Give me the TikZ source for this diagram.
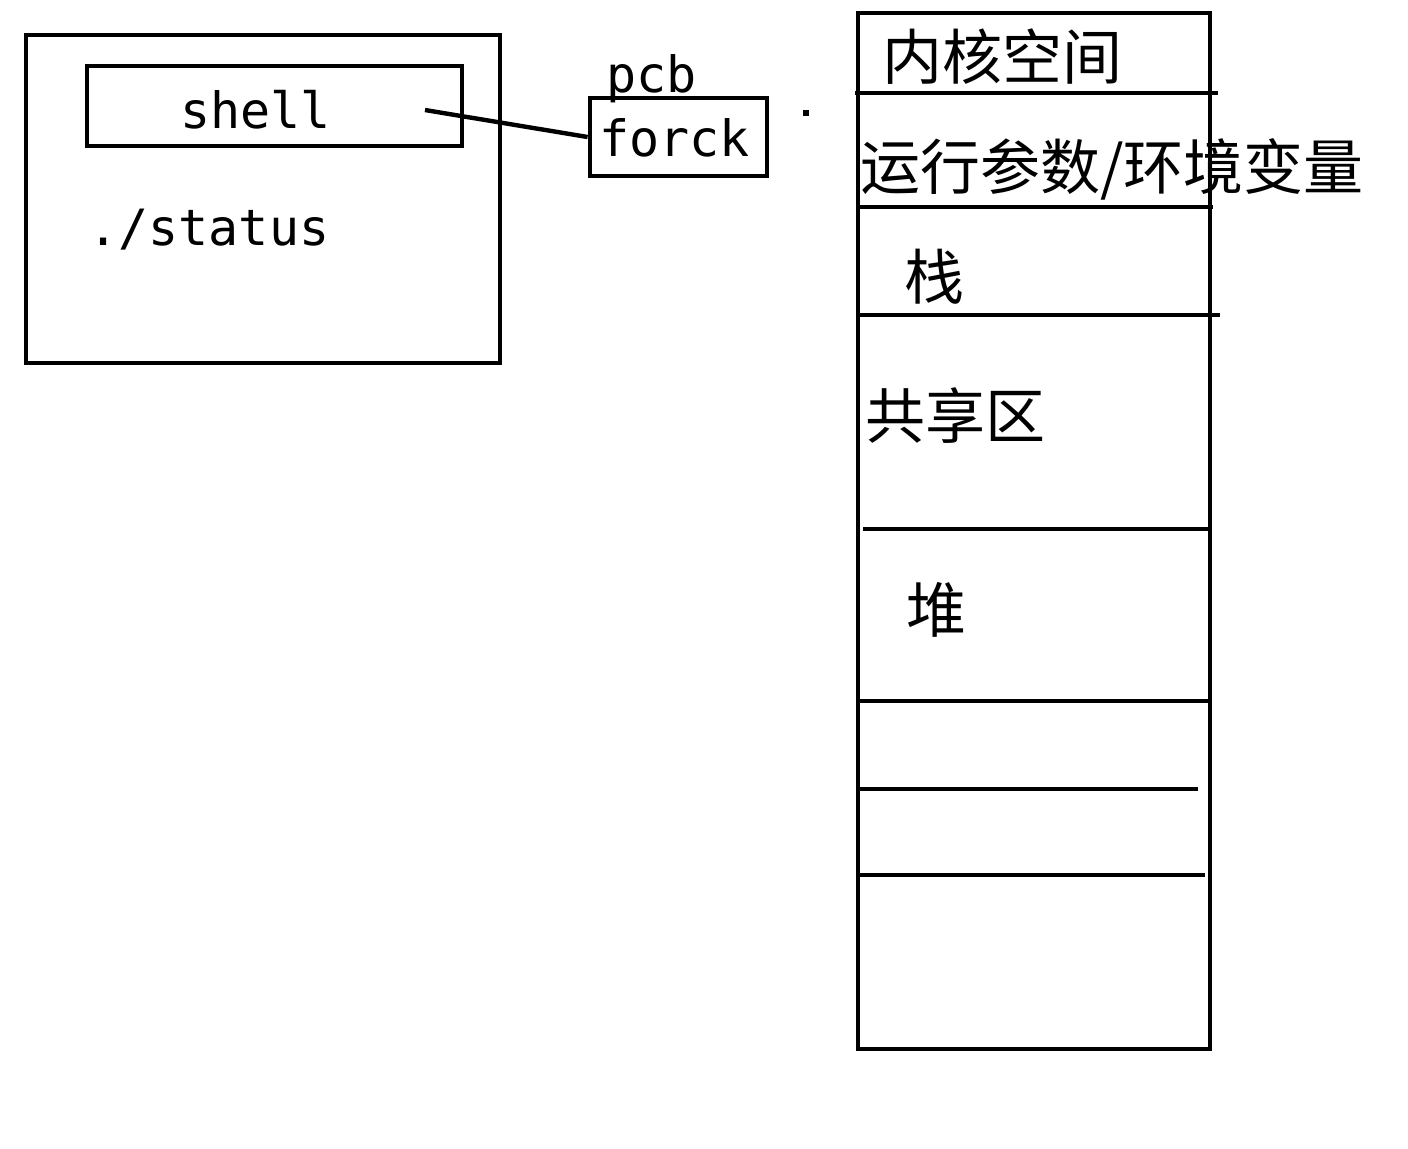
\documentclass[tikz,border=0pt]{standalone}
\usepackage{fontspec}
\newfontfamily\cjkfont{Noto Sans CJK SC}
\newfontfamily\latinmono{DejaVu Sans Mono}
\usetikzlibrary{positioning, calc}

\begin{document}
\begin{tikzpicture}[x=0.5pt, y=-0.5pt,
  box/.style={draw, line width=2.4pt, inner sep=0pt},
  latin/.style={inner sep=0pt, anchor=base west, font=\latinmono\fontsize{25}{25}\selectfont},
  hanzi/.style={inner sep=0pt, anchor=west, font=\cjkfont\fontsize{30}{30}\selectfont},
  sep/.style={line width=2.4pt}]

\useasboundingbox (0,0) rectangle (1408,1148);

% -----------------------------------------------------
%  process window with the shell
% -----------------------------------------------------
\node[box, minimum width=237pt, minimum height=164pt] (proc) at (263,199) {};
\node[box, minimum width=187.5pt, minimum height=40pt] (shellbox) at (274.5,106) {};
\node[latin] (shell) at (180,128) {shell};
\node[latin] (status) at (88,245) {./status};

% pcb created by fork
\node[box, minimum width=88.5pt, minimum height=39pt] (forckbox) at (678.5,137) {};
\node[latin] (forck) at (599,156) {forck};
\node[latin] (pcb) at (606,92) {pcb};

\coordinate (tap) at (425,110);
\draw[line width=2.2pt] (tap) -- (forckbox.west);

% stray dot
\node[fill, inner sep=0pt, minimum size=3pt] (dot) at (806,113) {};

% -----------------------------------------------------
%  address space of the process
% -----------------------------------------------------
\node[box, minimum width=176pt, minimum height=518pt] (mem) at (1034,531) {};

\draw[sep] (855,93) -- (1218,93);
\draw[sep] (858,207) -- (1213,207);
\draw[sep] (858,315) -- (1220,315);
\draw[sep] (863,529) -- (1208,529);
\draw[sep] (858,701) -- (1210,701);
\draw[line width=2pt] (856,789) -- (1198,789);
\draw[line width=2pt] (858,875) -- (1205,875);

\node[hanzi] (kernel) at (882,57) {内核空间};
\node[hanzi] (args) at (860,169) {运行参数/环境变量};
\node[hanzi] (stack) at (904,277) {栈};
\node[hanzi] (shared) at (865,416) {共享区};
\node[hanzi] (heap) at (906,610) {堆};

\end{tikzpicture}
\end{document}
